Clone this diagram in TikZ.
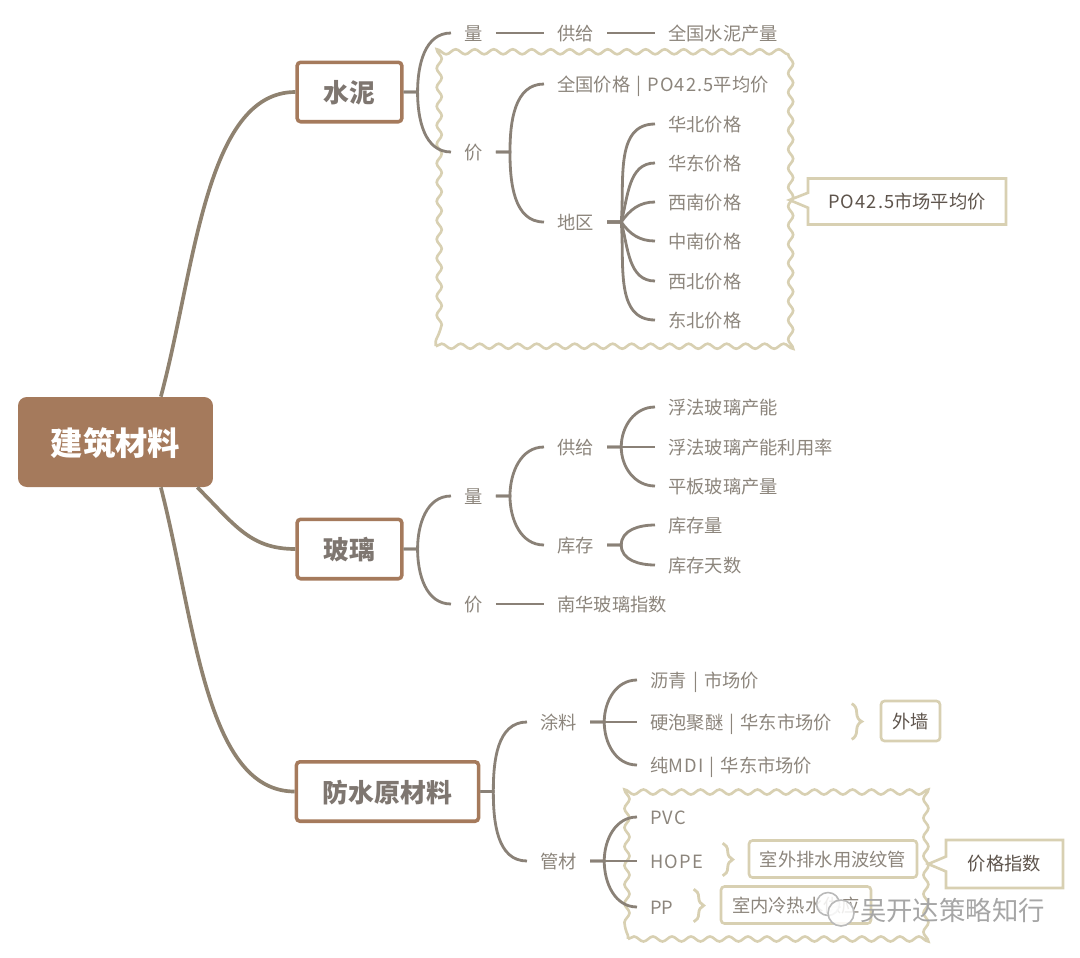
\documentclass[tikz,border=0pt]{standalone}
\usepackage{fontspec}
\setmainfont{Noto Sans CJK SC}
\usepackage{xcolor}
\usetikzlibrary{calc,shapes.callouts,decorations.pathmorphing,decorations.pathreplacing}
\definecolor{matbrown}{HTML}{A57A5C}
\definecolor{matstem}{HTML}{8F8270}
\definecolor{matline}{HTML}{8A8177}
\definecolor{mattext}{HTML}{8C857C}
\definecolor{matdark}{HTML}{5E544C}
\definecolor{matsand}{HTML}{D8D0B2}
\newcommand{\wide}[1]{{\addfontfeature{LetterSpace=6}#1}}
\newcommand{\pipesep}{\hspace{3.5pt}|\hspace{3.5pt}}
\tikzset{
  rootbox/.style={fill=matbrown, rounded corners=5pt, text=white, minimum width=3.9cm, minimum height=1.8cm, text height=16.4pt, text depth=1pt, font=\fontsize{18.4}{20}\selectfont\bfseries},
  topic/.style={draw=matbrown, fill=white, line width=2pt, rounded corners=2pt, inner xsep=0.53cm, minimum height=1.19cm, text height=13.2pt, text depth=1pt, text=matdark!80, font=\fontsize{14.7}{16}\selectfont\bfseries},
  item/.style={anchor=west, inner xsep=0.26cm, inner ysep=1pt, text height=10pt, text depth=1pt, text=mattext, font=\fontsize{10.4}{12}\selectfont},
  stem/.style={draw=matstem, line width=2.1pt},
  branch/.style={draw=matline, line width=1.6pt},
  wavy/.style={draw=matsand, line width=1.5pt, decorate, decoration={snake, segment length=0.38cm, amplitude=0.05cm}},
  tagbox/.style={draw=matsand, line width=1.5pt, rounded corners=2pt, text=mattext, minimum height=0.74cm, text height=10pt, text depth=1pt, font=\fontsize{10.4}{12}\selectfont},
  notebox/.style={rectangle callout, draw=matsand, line width=1.5pt, fill=white, text=matdark, minimum height=0.92cm, callout pointer width=0.3cm, font=\fontsize{10.4}{12}\selectfont},
  curly/.style={draw=matsand, line width=1.6pt, decorate, decoration={brace, amplitude=0.2cm}},
}
\begin{document}
\begin{tikzpicture}[x=0.02cm, y=-0.02cm]
\useasboundingbox (0,0) rectangle (1080,958);

% Wavy frames
\node[wavy, minimum width=7.05cm, minimum height=5.85cm] (priceframe) at (612,200) {};
\node[wavy, minimum width=5.98cm, minimum height=3cm] (pipeframe) at (777.5,864) {};

% Main topics
\node[rootbox] (root) at (115.5,442) {建筑材料};
\node[topic] (cement) at (349.5,92) {水泥};
\node[topic] (glass) at (349.5,549) {玻璃};
\node[topic] (waterproof) at (387.5,791.5) {防水原材料};

\draw[stem] (root.45) .. controls (195,270) and (205,92) .. (cement.west);
\draw[stem] (root.-29) .. controls (235,525) and (250,549) .. (glass.west);
\draw[stem] (root.-45) .. controls (195,620) and (205,791.5) .. (waterproof.west);

% Cement
\node[item] (cvol) at (451,33) {量};
\node[item] (csupply) at (544,33) {供给};
\node[item] (coutput) at (655,33) {全国水泥产量};
\node[item] (cprice) at (451,152) {价};
\node[item] (cnation) at (544,84) {全国价格\pipesep\wide{PO42.5}平均价};
\node[item] (carea) at (544,222) {地区};
\node[item] (north) at (655,124) {华北价格};
\node[item] (east) at (655,163) {华东价格};
\node[item] (southwest) at (655,202) {西南价格};
\node[item] (central) at (655,241) {中南价格};
\node[item] (northwest) at (655,281) {西北价格};
\node[item] (northeast) at (655,320) {东北价格};

\foreach \kid/\dir in {cvol/90,cprice/-90}
  \draw[branch] (cement.east) -- ++(14,0) to[out=\dir,in=180] (\kid.west);
\draw[branch] (cvol) -- (csupply);
\draw[branch] (csupply) -- (coutput);
\foreach \kid/\dir in {cnation/90,carea/-90}
  \draw[branch] (cprice.east) -- ++(14,0) to[out=\dir,in=180] (\kid.west);
\foreach \kid/\dir in {north/85,east/75,southwest/55,central/-55,northwest/-75,northeast/-85}
  \draw[branch] (carea.east) -- ++(14,0) to[out=\dir,in=180] (\kid.west);

\node[notebox, minimum width=3.96cm, callout absolute pointer={(priceframe.east)}] (areanote) at (907,201.5) {\wide{PO42.5}市场平均价};

% Glass
\node[item] (gvol) at (451,496) {量};
\node[item] (gprice) at (451,604) {价};
\node[item] (gsupply) at (544,447) {供给};
\node[item] (gstock) at (544,545) {库存};
\node[item] (gindex) at (544,604) {南华玻璃指数};
\node[item] (gcap) at (655,407) {浮法玻璃产能};
\node[item] (grate) at (655,447) {浮法玻璃产能利用率};
\node[item] (gflat) at (655,486) {平板玻璃产量};
\node[item] (gqty) at (655,525) {库存量};
\node[item] (gdays) at (655,565) {库存天数};

\foreach \kid/\dir in {gvol/90,gprice/-90}
  \draw[branch] (glass.east) -- ++(14,0) to[out=\dir,in=180] (\kid.west);
\foreach \kid/\dir in {gsupply/90,gstock/-90}
  \draw[branch] (gvol.east) -- ++(14,0) to[out=\dir,in=180] (\kid.west);
\foreach \kid/\dir in {gcap/90,grate/0,gflat/-90}
  \draw[branch] (gsupply.east) -- ++(14,0) to[out=\dir,in=180] (\kid.west);
\foreach \kid/\dir in {gqty/90,gdays/-90}
  \draw[branch] (gstock.east) -- ++(14,0) to[out=\dir,in=180] (\kid.west);
\draw[branch] (gprice) -- (gindex);

% Waterproofing
\node[item] (coat) at (527,722) {涂料};
\node[item] (pipe) at (527,861) {管材};
\node[item] (asphalt) at (637,680) {沥青\pipesep 市场价};
\node[item] (foam) at (637,722) {硬泡聚醚\pipesep 华东市场价};
\node[item] (mdi) at (637,765) {纯\wide{MDI}\pipesep 华东市场价};
\node[item] (pvc) at (637,817) {\wide{PVC}};
\node[item] (hope) at (637,861) {\wide{HOPE}};
\node[item] (pp) at (637,907) {PP};

\foreach \kid/\dir in {coat/90,pipe/-90}
  \draw[branch] (waterproof.east) -- ++(13,0) to[out=\dir,in=180] (\kid.west);
\foreach \kid/\dir in {asphalt/90,foam/0,mdi/-90}
  \draw[branch] (coat.east) -- ++(14,0) to[out=\dir,in=180] (\kid.west);
\foreach \kid/\dir in {pvc/90,hope/0,pp/-90}
  \draw[branch] (pipe.east) -- ++(14,0) to[out=\dir,in=180] (\kid.west);

% Tags with braces
\node[tagbox, text=matdark, minimum width=1.18cm, minimum height=0.8cm] (wall) at (910.5,721) {外墙};
\node[tagbox, minimum width=3.36cm] (outdoor) at (833,859) {室外排水用波纹管};
\node[tagbox, minimum width=3cm] (indoor) at (796,905) {室内冷热水供应};
\foreach \tag/\gap in {wall/28,outdoor/25,indoor/26}
  \draw[curly] ($(\tag.north west)+(-\gap,4)$) -- ($(\tag.south west)+(-\gap,-3)$);

\node[notebox, minimum width=2.34cm, minimum height=0.96cm, callout absolute pointer={(pipeframe.east)}] (pricenote) at (1004.5,864) {价格指数};

% Watermark
\node[draw=gray!55, fill=white, fill opacity=0.85, circle, inner sep=0pt, minimum size=0.46cm, line width=0.9pt] (wechatA) at (828,904) {};
\node[draw=gray!55, fill=white, fill opacity=0.85, circle, inner sep=0pt, minimum size=0.52cm, line width=0.9pt] (wechatB) at (841,913) {};
\node[text=gray!70, font=\fontsize{15}{17}\selectfont] (mark) at (952.5,910) {吴开达策略知行};
\end{tikzpicture}
\end{document}
